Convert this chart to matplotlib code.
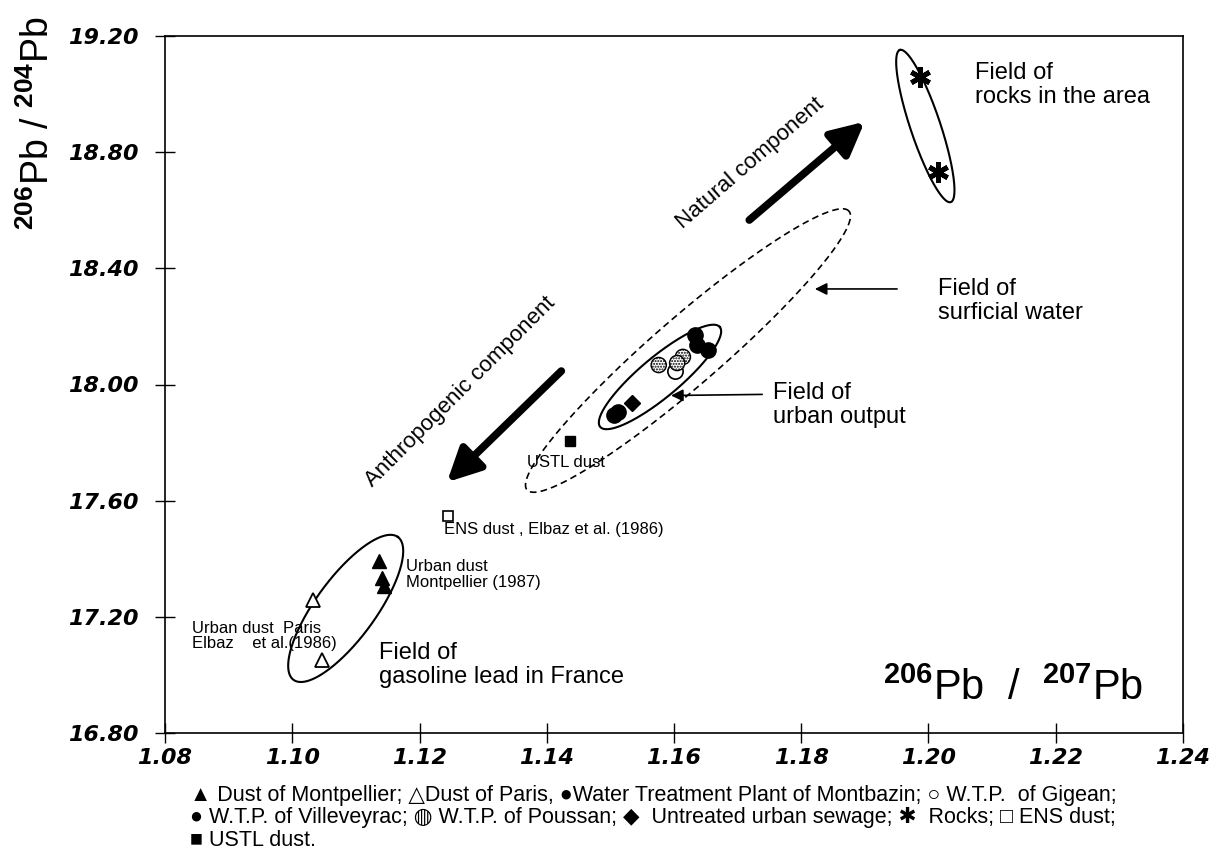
import numpy as np
import matplotlib.pyplot as plt

plt.rcParams['font.family'] = ['Liberation Sans', 'DejaVu Sans']
plt.rcParams['mathtext.fontset'] = 'custom'
plt.rcParams['mathtext.rm'] = 'Liberation Sans'
plt.rcParams['mathtext.bf'] = 'Liberation Sans:bold'

# 206Pb/207Pb (x) and 206Pb/204Pb (y)
montpellier_x = [1.1136, 1.1141, 1.1144]
montpellier_y = [17.392, 17.334, 17.306]
paris_x = [1.1033, 1.1047]
paris_y = [17.258, 17.051]
montbazin_x = [1.1505, 1.1512]
montbazin_y = [17.895, 17.905]
gigean_x = [1.1602]
gigean_y = [18.046]
villeveyrac_x = [1.1633, 1.1636, 1.1654]
villeveyrac_y = [18.170, 18.136, 18.119]
poussan_x = [1.1576, 1.1614, 1.1605]
poussan_y = [18.067, 18.095, 18.074]
sewage_x = [1.1534]
sewage_y = [17.936]
rocks_x = [1.1987, 1.2015]
rocks_y = [19.06, 18.73]
ens_x = [1.1245]
ens_y = [17.547]
ustl_x = [1.1437]
ustl_y = [17.805]

x_ticks = [1.08, 1.10, 1.12, 1.14, 1.16, 1.18, 1.20, 1.22, 1.24]
y_ticks = [16.80, 17.20, 17.60, 18.00, 18.40, 18.80, 19.20]

# fields: (center, end of long axis, half width in px, linestyle)
fields = [
    ((1.1995, 18.890), (1.1955, 19.152), 15, '-'),   # rocks
    ((1.1578, 18.026), (1.1672, 18.198), 20, '-'),   # urban output
    ((1.1622, 18.117), (1.1875, 18.597), 34, '--'),  # surficial water
    ((1.1084, 17.229), (1.1166, 17.475), 30, '-'),   # gasoline lead
]

fig = plt.figure(figsize=(12.22, 8.59), dpi=100)
ax = fig.add_axes([165 / 1222, 1 - 733 / 859, 1018 / 1222, 697 / 859])
ax.set_xlim(1.08, 1.24)
ax.set_ylim(16.8, 19.2)

tick_font = dict(family='DejaVu Sans', weight='bold', style='italic', size=16)
ax.set_xticks(x_ticks)
ax.set_xticklabels([f"{v:.2f}" for v in x_ticks], **tick_font)
ax.set_yticks(y_ticks)
ax.set_yticklabels([f"{v:.2f}" for v in y_ticks], **tick_font)
ax.tick_params(direction='inout', length=14, width=1)
ax.tick_params(axis='x', pad=4)
ax.tick_params(axis='y', pad=12)
for s in ax.spines.values():
    s.set_linewidth(1.2)


def draw_field(center, tip, half_w, ls):
    c = ax.transData.transform(center)
    t = ax.transData.transform(tip)
    u = t - c
    n = np.array([-u[1], u[0]]) / np.hypot(*u) * half_w
    th = np.linspace(0, 2 * np.pi, 300)
    pts = c + np.outer(np.cos(th), u) + np.outer(np.sin(th), n)
    d = ax.transData.inverted().transform(pts)
    if ls == '--':
        ax.plot(d[:, 0], d[:, 1], color='black', lw=1.2, dashes=(4, 2.5))
    else:
        ax.plot(d[:, 0], d[:, 1], color='black', lw=1.5)


for c, t, hw, ls in fields:
    draw_field(c, t, hw, ls)

# data points
ax.plot(montpellier_x, montpellier_y, '^', color='black', ms=10, zorder=3)
ax.plot(paris_x, paris_y, '^', mfc='white', mec='black', mew=1.3, ms=10, zorder=3)
ax.plot(montbazin_x, montbazin_y, 'o', color='black', ms=11, zorder=3)
ax.plot(villeveyrac_x, villeveyrac_y, 'o', color='black', ms=11, zorder=3)
ax.plot(gigean_x, gigean_y, 'o', mfc='white', mec='black', mew=1.2, ms=11, zorder=3)
ax.scatter(poussan_x, poussan_y, s=120, facecolor='white', edgecolor='black',
           hatch='......', linewidth=1.0, zorder=4)
ax.plot(sewage_x, sewage_y, 'D', color='black', ms=8, zorder=3)
ax.plot(rocks_x, rocks_y, marker=(6, 2, 0), ls='none', color='black', ms=15, mew=3.5, zorder=3)
ax.plot(ens_x, ens_y, 's', mfc='white', mec='black', mew=1.2, ms=7, zorder=3)
ax.plot(ustl_x, ustl_y, 's', color='black', ms=7, zorder=3)

# component arrows
ax.annotate('', xy=(1.1903, 18.911), xytext=(1.1715, 18.560),
            arrowprops=dict(arrowstyle='-|>', lw=5.5, color='black', mutation_scale=50))
ax.annotate('', xy=(1.1240, 17.657), xytext=(1.1426, 18.053),
            arrowprops=dict(arrowstyle='-|>', lw=5.5, color='black', mutation_scale=50))
ax.text(1.1719, 18.763, 'Natural component', rotation=41, ha='center', va='center', fontsize=16)
ax.text(1.1264, 17.974, 'Anthropogenic component', rotation=45, ha='center', va='center', fontsize=16)

# field labels
big = 17
ax.text(1.2073, 19.110, 'Field of\nrocks in the area', fontsize=big, va='top', linespacing=1.1)
ax.text(1.2015, 18.367, 'Field of\nsurficial water', fontsize=big, va='top', linespacing=1.1)
ax.annotate('', xy=(1.1817, 18.329), xytext=(1.1955, 18.329),
            arrowprops=dict(arrowstyle='-|>', lw=1.2, color='black', mutation_scale=18))
ax.text(1.1756, 18.009, 'Field of\nurban output', fontsize=big, va='top', linespacing=1.1)
ax.annotate('', xy=(1.1591, 17.962), xytext=(1.1743, 17.966),
            arrowprops=dict(arrowstyle='-|>', lw=1.2, color='black', mutation_scale=18))
ax.text(1.1136, 17.113, 'Field of\ngasoline lead in France', fontsize=big, va='top', linespacing=1.1)

small = 12
ax.text(1.1369, 17.733, 'USTL dust', fontsize=small, va='center')
ax.text(1.1239, 17.499, 'ENS dust , Elbaz et al. (1986)', fontsize=small, va='center')
ax.text(1.1179, 17.399, 'Urban dust\nMontpellier (1987)', fontsize=small, va='top', linespacing=1.05)
ax.text(1.0842, 17.186, 'Urban dust  Paris\nElbaz    et al.(1986)', fontsize=small, va='top',
        linespacing=1.05)

# axis titles
ax.text(0.961, 0.035, r'$^{\mathbf{206}}$Pb  /  $^{\mathbf{207}}$Pb', transform=ax.transAxes,
        ha='right', va='bottom', fontsize=30)
fig.text(0.031, 0.857, r'$^{\mathbf{206}}$Pb / $^{\mathbf{204}}$Pb', rotation=90,
         ha='center', va='center', fontsize=27)

# symbol key under the plot
key_lines = [
    '\u25B2 Dust of Montpellier; \u25B3Dust of Paris, \u25CFWater Treatment Plant of Montbazin; \u25CB W.T.P.  of Gigean;',
    '\u25CF W.T.P. of Villeveyrac; \u25CD W.T.P. of Poussan; \u25C6  Untreated urban sewage; \u2731  Rocks; \u25A1 ENS dust;',
    '\u25A0 USTL dust.',
]
for i, line in enumerate(key_lines):
    fig.text(190 / 1222, 1 - (795 + 22.5 * i) / 859, line, fontsize=15.5, va='center', ha='left')

fig.savefig('out.png', dpi=100)
